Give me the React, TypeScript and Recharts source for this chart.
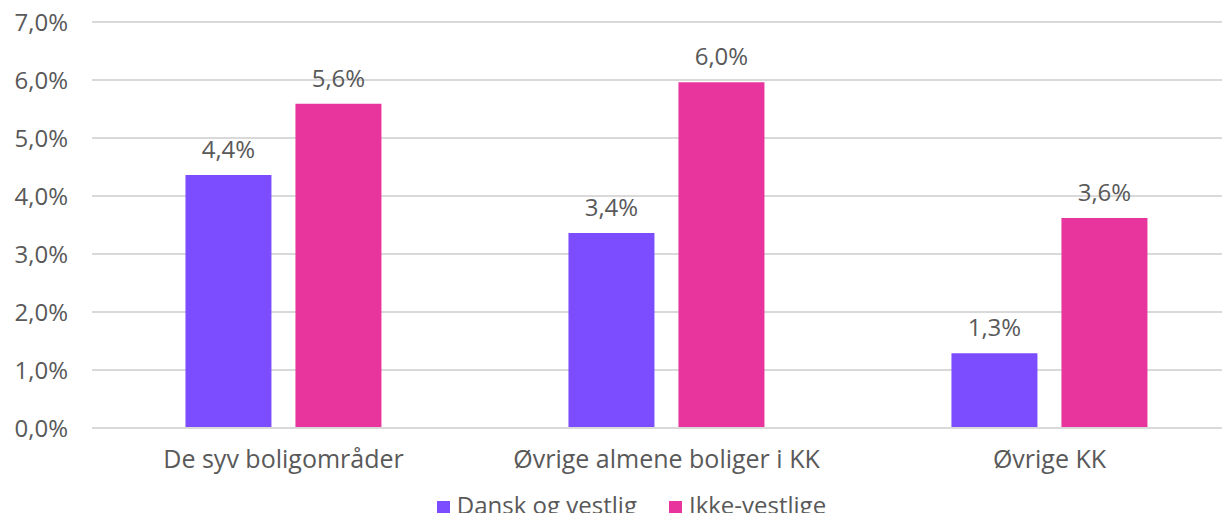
import { BarChart, Bar, XAxis, YAxis, CartesianGrid, Legend, LabelList } from "recharts";

const categories = ["De syv boligområder", "Øvrige almene boliger i KK", "Øvrige KK"];
const danskOgVestlig = [4.36, 3.36, 1.29];
const ikkeVestlige = [5.59, 5.96, 3.62];
const yTicks = [0, 1, 2, 3, 4, 5, 6, 7];

const data = categories.map((name, i) => ({
  name,
  dansk: danskOgVestlig[i],
  ikke: ikkeVestlige[i],
}));

const pct = (v: number) => `${v.toFixed(1).replace(".", ",")}%`;

const FONT = "'Open Sans', sans-serif";
const TEXT = "#595959";

export default function App() {
  return (
    <div style={{ margin: -8, width: 1230, height: 521, overflow: "hidden", background: "#fff" }}>
      <BarChart
        width={1245}
        height={530}
        data={data}
        margin={{ top: 22, right: 4, left: 0, bottom: 10 }}
        barCategoryGap="24.4%"
        barGap={24}
        style={{ fontFamily: FONT }}
      >
        <CartesianGrid vertical={false} stroke="#d9d9d9" strokeWidth={2} />
        <XAxis
          dataKey="name"
          height={62}
          tickLine={false}
          axisLine={{ stroke: "#d9d9d9", strokeWidth: 2 }}
          tick={{ fill: TEXT, fontSize: 25 }}
          tickMargin={16}
        />
        <YAxis
          width={92}
          domain={[0, 7]}
          ticks={yTicks}
          tickFormatter={pct}
          axisLine={false}
          tickLine={false}
          tickSize={0}
          tickMargin={24}
          tick={{ fill: TEXT, fontSize: 24 }}
        />
        <Legend
          verticalAlign="bottom"
          iconType="square"
          iconSize={13}
          wrapperStyle={{ height: 30, fontSize: 24, color: TEXT, lineHeight: "30px", paddingLeft: 16 }}
          formatter={(value, _entry, index) => (
            <span style={{ color: TEXT, marginLeft: 3, marginRight: index === 0 ? 22 : 0 }}>{value}</span>
          )}
        />
        <Bar dataKey="dansk" name="Dansk og vestlig" fill="#7C4DFF" isAnimationActive={false}>
          <LabelList dataKey="dansk" position="top" offset={17} formatter={(v: number) => pct(v)} fill={TEXT} fontSize={24} />
        </Bar>
        <Bar dataKey="ikke" name="Ikke-vestlige" fill="#E8359E" isAnimationActive={false}>
          <LabelList dataKey="ikke" position="top" offset={17} formatter={(v: number) => pct(v)} fill={TEXT} fontSize={24} />
        </Bar>
      </BarChart>
    </div>
  );
}
